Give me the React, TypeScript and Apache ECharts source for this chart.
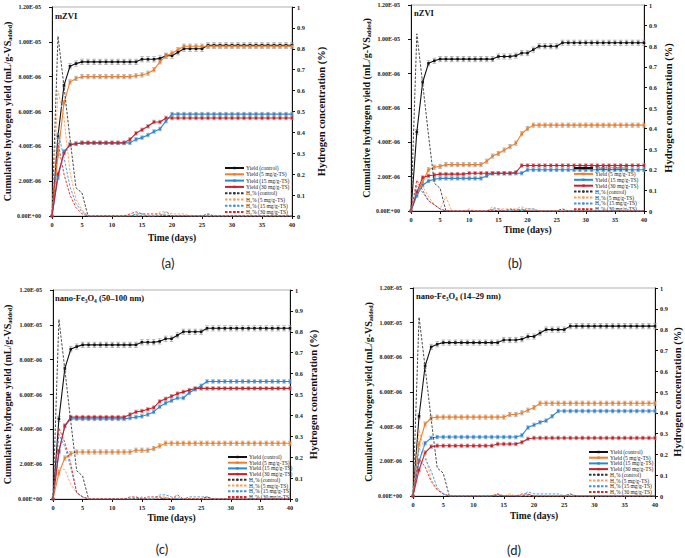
import React, { useEffect, useRef } from "react";
import * as echarts from "echarts";

// ---------- data (yield in units of 1e-6 mL/g-VS, H2 in %) ----------
const DAYS = [0,1,2,3,4,5,6,7,8,9,10,11,12,13,14,15,16,17,18,19,20,21,22,23,24,25,26,27,28,29,30,31,32,33,34,35,36,37,38,39,40];

const SERIES_NAMES = [
  "Yield (control)", "Yield (5 mg/g-TS)", "Yield (15 mg/g-TS)", "Yield (30 mg/g-TS)",
  "H\u2082% (control)", "H\u2082% (5 mg/g-TS)", "H\u2082% (15 mg/g-TS)", "H\u2082% (30 mg/g-TS)",
];

// control (shared by all panels)
const CTRL_YIELD = [0,4.6,7.5,8.6,8.75,8.85,8.85,8.85,8.85,8.85,8.85,8.85,8.85,8.85,8.85,9.0,9.0,9.0,9.05,9.2,9.2,9.4,9.6,9.6,9.6,9.6,9.8,9.8,9.8,9.8,9.8,9.8,9.8,9.8,9.8,9.8,9.8,9.8,9.8,9.8,9.8];
const CTRL_H2 = [0,0.86,0.62,0.37,0.135,0.11,0,0,0,0,0,0,0,0,0.005,0,0,0,0,0.005,0,0,0,0,0,0,0.01,0,0,0,0,0,0,0,0,0,0,0,0,0,0];

// (a) mZVI
const A_Y5 = [0,3.5,6.5,7.7,7.9,8.0,8.0,8.0,8.0,8.0,8.0,8.0,8.0,8.0,8.05,8.1,8.2,8.4,8.85,9.2,9.35,9.55,9.75,9.75,9.75,9.75,9.75,9.75,9.75,9.75,9.75,9.75,9.75,9.75,9.75,9.75,9.75,9.75,9.75,9.75,9.75];
const A_Y15 = [0,2.2,3.7,4.1,4.15,4.2,4.2,4.2,4.2,4.2,4.2,4.2,4.2,4.2,4.4,4.5,4.65,4.85,5.0,5.45,5.85,5.85,5.85,5.85,5.85,5.85,5.85,5.85,5.85,5.85,5.85,5.85,5.85,5.85,5.85,5.85,5.85,5.85,5.85,5.85,5.85];
const A_Y30 = [0,2.4,3.6,4.1,4.15,4.2,4.2,4.2,4.2,4.2,4.2,4.2,4.2,4.4,4.75,4.95,5.15,5.4,5.4,5.63,5.63,5.63,5.63,5.63,5.63,5.63,5.63,5.63,5.63,5.63,5.63,5.63,5.63,5.63,5.63,5.63,5.63,5.63,5.63,5.63,5.63];
const A_H5 = [0,0.6,0.47,0.21,0.08,0.03,0,0,0,0,0,0,0,0,0,0,0,0,0.02,0.02,0.01,0.01,0.01,0,0,0,0,0,0,0,0,0,0,0,0,0,0,0,0,0,0];
const A_H15 = [0,0.4,0.28,0.14,0.06,0.02,0,0,0,0,0,0,0,0,0.01,0.01,0,0,0,0.02,0,0,0,0,0,0,0,0,0,0,0,0,0,0,0,0,0,0,0,0,0];
const A_H30 = [0,0.35,0.2,0.1,0.04,0.01,0,0,0,0,0,0,0,0.01,0.02,0.01,0.01,0.01,0.01,0,0,0,0,0,0,0,0,0,0,0,0,0,0,0,0,0,0,0,0,0,0];

// (b) nZVI
const B_Y5 = [0,1.0,1.7,2.4,2.55,2.6,2.7,2.7,2.7,2.7,2.7,2.7,2.7,2.9,3.2,3.35,3.55,3.75,3.95,4.5,4.8,5.0,5.0,5.0,5.0,5.0,5.0,5.0,5.0,5.0,5.0,5.0,5.0,5.0,5.0,5.0,5.0,5.0,5.0,5.0,5.0];
const B_Y15 = [0,0.9,1.5,1.75,1.85,1.9,1.9,1.9,1.9,1.9,1.9,1.9,1.9,2.05,2.2,2.2,2.2,2.2,2.2,2.2,2.4,2.4,2.4,2.4,2.4,2.4,2.4,2.4,2.4,2.4,2.4,2.4,2.4,2.4,2.4,2.4,2.4,2.4,2.4,2.4,2.4];
const B_Y30 = [0,1.1,1.95,2.05,2.1,2.15,2.15,2.15,2.15,2.15,2.2,2.2,2.2,2.2,2.2,2.2,2.2,2.2,2.25,2.65,2.65,2.65,2.65,2.65,2.65,2.65,2.65,2.65,2.65,2.65,2.65,2.65,2.65,2.65,2.65,2.65,2.65,2.65,2.65,2.65,2.65];
const B_H5 = [0,0.13,0.12,0.07,0.03,0.01,0.07,0,0,0,0.01,0,0,0,0.02,0.01,0.01,0.01,0.01,0.02,0.01,0.01,0,0,0,0,0,0,0,0,0,0,0,0,0,0,0,0,0,0,0];
const B_H15 = [0,0.12,0.09,0.05,0.03,0.01,0,0,0,0,0,0,0,0,0.01,0.01,0,0,0.01,0,0.01,0.01,0,0,0,0,0,0,0,0,0,0,0,0,0,0,0,0,0,0,0];
const B_H30 = [0,0.15,0.1,0.05,0.03,0.01,0,0,0,0,0,0,0,0,0,0,0,0.01,0,0.01,0,0,0,0,0,0,0,0,0,0,0,0,0,0,0,0,0,0,0,0,0];

// (c) nano-Fe3O4 (50-100 nm)
const C_Y5 = [0,1.5,2.35,2.6,2.7,2.7,2.7,2.7,2.7,2.7,2.7,2.7,2.7,2.7,2.8,2.8,2.8,2.9,3.05,3.2,3.2,3.2,3.2,3.2,3.2,3.2,3.2,3.2,3.2,3.2,3.2,3.2,3.2,3.2,3.2,3.2,3.2,3.2,3.2,3.2,3.2];
const C_Y15 = [0,2.7,4.2,4.6,4.6,4.6,4.6,4.6,4.6,4.6,4.6,4.6,4.6,4.65,4.7,4.75,4.85,5.0,5.3,5.5,5.65,5.8,5.8,6.1,6.3,6.5,6.75,6.75,6.75,6.75,6.75,6.75,6.75,6.75,6.75,6.75,6.75,6.75,6.75,6.75,6.75];
const C_Y30 = [0,2.75,4.2,4.7,4.7,4.7,4.7,4.7,4.7,4.7,4.7,4.7,4.7,4.85,5.0,5.05,5.15,5.25,5.6,5.75,5.9,6.05,6.15,6.25,6.35,6.35,6.35,6.35,6.35,6.35,6.35,6.35,6.35,6.35,6.35,6.35,6.35,6.35,6.35,6.35,6.35];
const C_H5 = [0,0.15,0.14,0.07,0.03,0.01,0,0,0,0,0,0,0,0,0,0,0,0,0.01,0.01,0,0.01,0,0,0,0,0,0,0,0,0,0,0,0,0,0,0,0,0,0,0];
const C_H15 = [0,0.31,0.25,0.15,0.03,0.01,0,0,0,0,0,0,0,0,0,0.01,0,0,0.02,0.02,0.01,0,0,0.01,0.01,0.01,0.01,0,0,0,0,0,0,0,0,0,0,0,0,0,0];
const C_H30 = [0,0.34,0.27,0.17,0.03,0.01,0,0,0,0,0,0,0,0.01,0.01,0,0.01,0.01,0.01,0,0,0.02,0,0,0,0,0,0,0,0,0,0,0,0,0,0,0,0,0,0,0];

// (d) nano-Fe3O4 (14-29 nm)
const D_Y5 = [0,3.0,4.15,4.5,4.55,4.55,4.55,4.55,4.55,4.55,4.55,4.55,4.55,4.55,4.55,4.55,4.7,4.7,4.8,4.95,5.1,5.35,5.35,5.35,5.35,5.35,5.35,5.35,5.35,5.35,5.35,5.35,5.35,5.35,5.35,5.35,5.35,5.35,5.35,5.35,5.35];
const D_Y15 = [0,2.0,3.05,3.35,3.4,3.4,3.4,3.4,3.4,3.4,3.4,3.4,3.4,3.4,3.4,3.4,3.4,3.4,3.5,3.95,4.1,4.25,4.35,4.6,4.9,4.9,4.9,4.9,4.9,4.9,4.9,4.9,4.9,4.9,4.9,4.9,4.9,4.9,4.9,4.9,4.9];
const D_Y30 = [0,1.5,2.5,2.85,2.9,2.9,2.9,2.9,2.9,2.9,2.9,2.9,2.9,2.9,3.0,3.0,3.0,3.0,3.1,3.3,3.35,3.35,3.35,3.35,3.35,3.35,3.35,3.35,3.35,3.35,3.35,3.35,3.35,3.35,3.35,3.35,3.35,3.35,3.35,3.35,3.35];
const D_H5 = [0,0.32,0.2,0.08,0.03,0.01,0,0,0,0,0,0,0,0,0.01,0,0.01,0,0,0,0,0,0,0,0,0,0,0,0,0,0,0,0,0,0,0,0,0,0,0,0];
const D_H15 = [0,0.23,0.18,0.12,0.04,0.01,0,0,0,0,0,0,0,0,0,0,0,0,0,0.02,0.01,0.01,0.01,0.01,0.01,0,0,0,0,0,0,0,0,0,0,0,0,0,0,0,0];
const D_H30 = [0,0.18,0.14,0.07,0.03,0.01,0,0,0,0,0,0,0,0,0.01,0,0,0,0.01,0.01,0,0,0,0,0,0,0,0,0,0,0,0,0,0,0,0,0,0,0,0,0];

// error bar half-widths (1e-6 units) for control, 5, 15, 30
const ERR = [0.15, 0.12, 0.1, 0.1];

// ---------- styling ----------
const SERIF = "'Liberation Serif', 'Times New Roman', 'DejaVu Serif', serif";
const YIELD_COLORS = ["#111111", "#F07F2A", "#2B88D8", "#CC1F2A"];
const H2_COLORS = ["#333333", "#F5A25E", "#3F95DD", "#D42A2A"];

const GRIDS = [
  { left: 52, top: 7, width: 240, height: 209 },
  { left: 411, top: 5, width: 233, height: 206 },
  { left: 53, top: 290, width: 237, height: 209 },
  { left: 413, top: 288, width: 242, height: 208 },
];

const PANELS = [
  {
    title: "{t|mZVI}", label: "(a)", labelPos: [168, 263], titlePos: [55, 17],
    yName: "Cumulative hydrogen yield (mL/g-VS{sub|added})",
    leftGap: 38, rightGap: 23, xGap: 16,
    legend: { left: 224, top: 165, spacing: 6.2 },
    yields: [CTRL_YIELD, A_Y5, A_Y15, A_Y30], h2: [CTRL_H2, A_H5, A_H15, A_H30],
  },
  {
    title: "{t|nZVI}", label: "(b)", labelPos: [515, 263], titlePos: [414, 14],
    yName: "Cumulative hydrogen yield (mL/g-VS{sub|added})",
    leftGap: 37, rightGap: 18, xGap: 13,
    legend: { left: 573, top: 165, spacing: 5.8 },
    yields: [CTRL_YIELD, B_Y5, B_Y15, B_Y30], h2: [CTRL_H2, B_H5, B_H15, B_H30],
  },
  {
    title: "{t|nano-Fe}{s|3}{t|O}{s|4}{t| (50\u2013100 nm)}", label: "(c)", labelPos: [162, 549], titlePos: [55, 299],
    yName: "Cumulative hydrogne yield (mL/g-VS{sub|added})",
    leftGap: 40, rightGap: 17, xGap: 13,
    legend: { left: 227, top: 454, spacing: 5.6 },
    yields: [CTRL_YIELD, C_Y5, C_Y15, C_Y30], h2: [CTRL_H2, C_H5, C_H15, C_H30],
  },
  {
    title: "{t|nano-Fe}{s|3}{t|O}{s|4}{t| (14\u201329 nm)}", label: "(d)", labelPos: [514, 550], titlePos: [416, 297],
    yName: "Cumulative hydrogen yield (mL/g-VS{sub|added})",
    leftGap: 37, rightGap: 16, xGap: 14,
    legend: { left: 588, top: 449, spacing: 5.6 },
    yields: [CTRL_YIELD, D_Y5, D_Y15, D_Y30], h2: [CTRL_H2, D_H5, D_H15, D_H30],
  },
];

function fmtYield(v: number): string {
  if (v === 0) return "0.00E+00";
  if (v >= 10) return (v / 10).toFixed(2) + "E-05";
  return v.toFixed(2) + "E-06";
}

function buildOption() {
  const grid: any[] = [];
  const xAxis: any[] = [];
  const yAxis: any[] = [];
  const series: any[] = [];
  const legend: any[] = [];
  const graphic: any[] = [];

  PANELS.forEach((p, g) => {
    grid.push({
      ...GRIDS[g],
      show: true,
      borderColor: "#b0b0b0",
      borderWidth: 1,
      backgroundColor: "transparent",
      containLabel: false,
      outerBoundsMode: "none",
    });
    xAxis.push({
      type: "value", gridIndex: g, min: 0, max: 40, interval: 5,
      name: "Time (days)", nameLocation: "middle", nameGap: p.xGap,
      nameTextStyle: { fontFamily: SERIF, fontWeight: "bold", fontSize: 9.5, color: "#111", lineHeight: 12 },
      axisLine: { show: true, onZero: false, lineStyle: { color: "#111", width: 1 } },
      axisTick: { show: true, inside: false, length: 3, lineStyle: { color: "#111" } },
      axisLabel: { fontFamily: SERIF, fontWeight: "bold", fontSize: 6.3, color: "#222", margin: 5 },
      splitLine: { show: false },
    });
    yAxis.push({
      type: "value", gridIndex: g, position: "left", min: 0, max: 12, interval: 2,
      name: p.yName, nameLocation: "middle", nameGap: p.leftGap,
      nameTextStyle: {
        fontFamily: SERIF, fontWeight: "bold", fontSize: 10, color: "#111", lineHeight: 12,
        rich: { sub: { fontFamily: SERIF, fontWeight: "bold", fontSize: 6, color: "#111", verticalAlign: "bottom", lineHeight: 12 } },
      },
      axisLine: { show: true, lineStyle: { color: "#111", width: 1 } },
      axisTick: { show: true, inside: false, length: 3, lineStyle: { color: "#111" } },
      axisLabel: { fontFamily: SERIF, fontWeight: "bold", fontSize: 6, color: "#222", margin: 11, formatter: fmtYield },
      splitLine: { show: false },
    });
    yAxis.push({
      type: "value", gridIndex: g, position: "right", min: 0, max: 1, interval: 0.1,
      name: "Hydrogen concentration (%)", nameLocation: "middle", nameGap: p.rightGap,
      nameTextStyle: { fontFamily: SERIF, fontWeight: "bold", fontSize: 10.5, color: "#111", lineHeight: 12 },
      axisLine: { show: true, lineStyle: { color: "#111", width: 1 } },
      axisTick: { show: true, inside: false, length: 3, lineStyle: { color: "#111" } },
      axisLabel: { fontFamily: SERIF, fontWeight: "bold", fontSize: 6.3, color: "#222", margin: 5,
        formatter: (v: number) => String(Math.round(v * 10) / 10) },
      splitLine: { show: false },
    });

    // error bars
    p.yields.forEach((arr, k) => {
      const e = ERR[k];
      series.push({
        type: "custom", name: "err" + g + k, xAxisIndex: g, yAxisIndex: 2 * g, silent: true, z: 1,
        data: DAYS.filter((d, i) => arr[i] > 0).map((d) => [d, arr[d] - e, arr[d] + e]),
        encode: { x: 0, y: [1, 2] },
        renderItem: (params: any, api: any) => {
          const x = api.value(0);
          const lo = api.coord([x, api.value(1)]);
          const hi = api.coord([x, api.value(2)]);
          const w = 1.8;
          const st = { stroke: "#9a9a9a", lineWidth: 0.7 };
          return {
            type: "group",
            children: [
              { type: "line", shape: { x1: lo[0], y1: lo[1], x2: hi[0], y2: hi[1] }, style: st },
              { type: "line", shape: { x1: lo[0] - w, y1: lo[1], x2: lo[0] + w, y2: lo[1] }, style: st },
              { type: "line", shape: { x1: hi[0] - w, y1: hi[1], x2: hi[0] + w, y2: hi[1] }, style: st },
            ],
          };
        },
      });
    });

    // yield lines
    p.yields.forEach((arr, k) => {
      series.push({
        type: "line", name: SERIES_NAMES[k], xAxisIndex: g, yAxisIndex: 2 * g, z: 3,
        data: DAYS.map((d, i) => [d, arr[i]]),
        symbol: "rect", symbolSize: 2.6, showSymbol: true,
        itemStyle: { color: YIELD_COLORS[k] },
        lineStyle: { color: YIELD_COLORS[k], width: 1.1 },
      });
    });
    // H2 lines
    p.h2.forEach((arr, k) => {
      series.push({
        type: "line", name: SERIES_NAMES[4 + k], xAxisIndex: g, yAxisIndex: 2 * g + 1, z: 4,
        data: DAYS.map((d, i) => [d, arr[i]]),
        symbol: "none", showSymbol: false,
        itemStyle: { color: H2_COLORS[k] },
        lineStyle: { color: H2_COLORS[k], width: 0.9, type: [2.5, 1.5] },
      });
    });

    const lh = 5.6;
    legend.push({
      show: true, orient: "vertical", left: p.legend.left, top: p.legend.top,
      data: SERIES_NAMES, padding: 0, itemGap: p.legend.spacing - 5.9,
      itemWidth: 19, itemHeight: 3, selectedMode: false,
      textStyle: { fontFamily: SERIF, fontSize: 5.5, color: "#222", lineHeight: lh, padding: [0, 0, 0, -3] },
      backgroundColor: "transparent",
    });

    graphic.push({
      type: "text", left: p.titlePos[0], top: p.titlePos[1] - 6, silent: true,
      style: {
        text: p.title, fill: "#111",
        rich: {
          t: { fontFamily: SERIF, fontWeight: "bold", fontSize: 8.5, fill: "#111", lineHeight: 12, verticalAlign: "middle" },
          s: { fontFamily: SERIF, fontWeight: "bold", fontSize: 5.5, fill: "#111", lineHeight: 12, verticalAlign: "bottom" },
        },
      },
    });
    graphic.push({
      type: "text", x: p.labelPos[0], y: p.labelPos[1], silent: true,
      style: { text: p.label, fill: "#222", font: "13px Lato, 'Noto Sans', sans-serif", textAlign: "center", textVerticalAlign: "middle" },
    });
  });

  return { animation: false, backgroundColor: "#ffffff", grid, xAxis, yAxis, series, legend, graphic };
}

export default function App() {
  const ref = useRef<HTMLDivElement>(null);
  useEffect(() => {
    if (!ref.current) return;
    const chart = echarts.init(ref.current, undefined, { renderer: "svg" });
    chart.setOption(buildOption() as any);
    return () => chart.dispose();
  }, []);
  return <div ref={ref} style={{ position: "absolute", left: 0, top: 0, width: 685, height: 558 }} />;
}
